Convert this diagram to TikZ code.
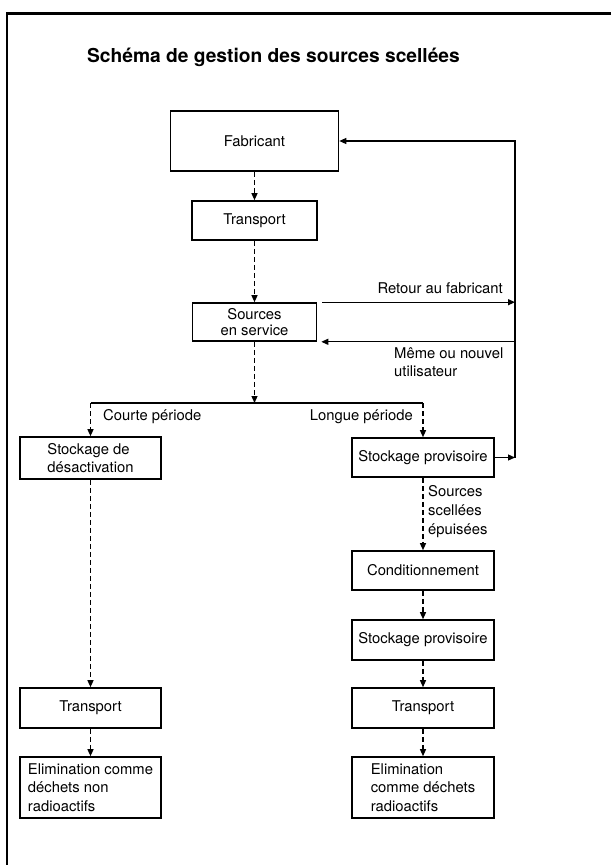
\documentclass[tikz,border=0pt]{standalone}
\usepackage{fontspec}
\setmainfont{TeX Gyre Heros}
\usetikzlibrary{arrows.meta,positioning,calc}
\tikzset{
  box/.style={draw,line width=1.6pt,inner sep=2pt,minimum width=142pt,minimum height=39pt,align=center},
  flow/.style={-{Triangle[length=7pt,width=6pt]},line width=1.2pt,dash pattern=on 5pt off 3pt},
  link/.style={-{Triangle[length=7pt,width=6pt]},line width=1.2pt},
  note/.style={inner sep=0pt,align=left}
}

\begin{document}
\begin{tikzpicture}[x=1pt,y=-1pt,font=\fontsize{14.8}{18.5}\selectfont]
  \useasboundingbox (0,0) rectangle (611,865);
  \draw[line width=2.5pt] (611,13.5) -- (7,13.5) -- (7,865);
  \node[font=\bfseries\fontsize{19.2}{23}\selectfont,anchor=base] (title) at (273.5,62) {Schéma de gestion des sources scellées};
  % centre column
  \node[box,minimum width=168pt,minimum height=60pt] (fab) at (254.5,141) {Fabricant};
  \node[box,minimum width=125pt] (tra) at (254.5,220.5) {Transport};
  \node[box,minimum width=124pt,minimum height=38pt,font=\fontsize{14.8}{16}\selectfont] (src) at (254.5,322) {Sources\\en service};
  % left column
  \node[box,minimum width=141pt,minimum height=42pt,align=left,font=\fontsize{14.8}{18}\selectfont] (desact) at (90.5,458) {Stockage de\\désactivation};
  \node[box,minimum width=141pt,minimum height=40pt] (trl) at (90.5,708) {Transport};
  \node[box,minimum width=141pt,minimum height=61pt,align=left] (eliml) at (90.5,787.5) {Elimination comme\\déchets non\\radioactifs};
  % right column
  \node[box] (spa) at (423,457.5) {Stockage provisoire};
  \node[box] (cond) at (423,570.5) {Conditionnement};
  \node[box,minimum height=40pt] (spb) at (423,640) {Stockage provisoire};
  \node[box,minimum height=40pt] (trr) at (423,708) {Transport};
  \node[box,minimum height=61pt,align=left] (elimr) at (423,787.5) {Elimination\\comme déchets\\radioactifs};
  \coordinate (split) at (254.5,403);
  \coordinate (bus) at (515,140);
  % labels
  \node[note,anchor=base east] (retour) at (503,293) {Retour au fabricant};
  \node[note,anchor=north west,font=\fontsize{14.8}{18}\selectfont] (meme) at (394,347) {Même ou nouvel\\utilisateur};
  \node[note,anchor=base west] (courte) at (103,420) {Courte période};
  \node[note,anchor=base east] (longue) at (413,420) {Longue période};
  \node[note,anchor=north west,font=\fontsize{14.8}{19}\selectfont] (epuis) at (428,485) {Sources\\scellées\\épuisées};
  % flows
  \draw[flow] (fab) -- (tra);
  \draw[flow] (tra) -- (src);
  \draw[flow] (src) -- (split);
  \draw[line width=1.2pt] (split -| desact.north) -- (split -| spa.north);
  \draw[flow] (split -| desact.north) -- (desact.north);
  \draw[flow] (split -| spa.north) -- (spa.north);
  \draw[flow] (desact) -- (trl);
  \draw[flow] (trl) -- (eliml);
  \draw[flow] (spa) -- (cond);
  \draw[flow] (cond) -- (spb);
  \draw[flow] (spb) -- (trr);
  \draw[flow] (trr) -- (elimr);
  % return lines
  \draw[link] (spa.east) -- (spa.east -| bus);
  \draw[link] (spa.east -| bus) |- (fab.east);
  \draw[link] ([xshift=5pt]src.north east) -- (src.north east -| bus);
  \draw[link] (src.south east -| bus) -- ([xshift=4pt]src.south east);
\end{tikzpicture}
\end{document}
